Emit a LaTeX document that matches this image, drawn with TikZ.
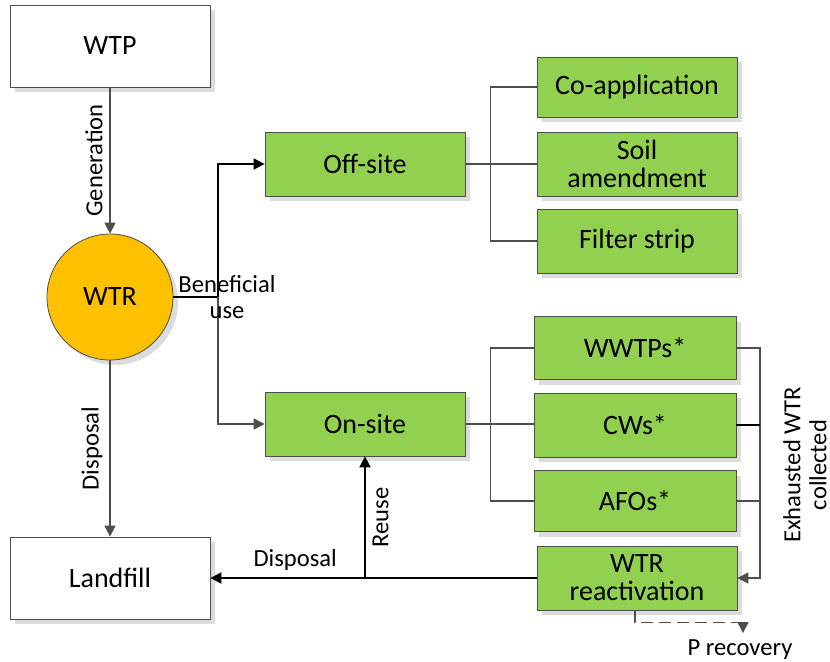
\documentclass[tikz,border=0pt]{standalone}
\usepackage{fontspec}
\setmainfont{Carlito}
\usetikzlibrary{arrows.meta,shadows}
\definecolor{boxgreen}{HTML}{92D050}
\definecolor{wtrorange}{HTML}{FFC000}
\definecolor{edgegray}{HTML}{4D4D4D}
\definecolor{shadegray}{HTML}{DCDCDC}
\begin{document}
\begin{tikzpicture}[x=0.5pt,y=-0.5pt,
  shade/.style={drop shadow={shadow xshift=2.5pt,shadow yshift=-2.5pt,fill=shadegray,opacity=1}},
  plain/.style={draw=edgegray,fill=white,shade,minimum width=100pt,minimum height=41pt,font=\fontsize{14}{15}\selectfont},
  stage/.style={draw=edgegray,fill=boxgreen,shade,minimum width=100pt,minimum height=32pt,align=center,font=\fontsize{14}{14}\selectfont},
  lbl/.style={font=\fontsize{12.3}{13}\selectfont,align=center},
  arr/.style={-{Triangle[length=5.5pt,width=5.5pt]}},
  wire/.style={draw=edgegray,line width=0.7pt}]
\useasboundingbox (0,0) rectangle (830,661);

\node[plain] (wtp) at (110,46) {WTP};
\node[circle,draw=edgegray,fill=wtrorange,shade,minimum size=63pt,font=\fontsize{14}{15}\selectfont] (wtr) at (110,297) {WTR};
\node[plain] (landfill) at (110,578) {Landfill};

\node[stage] (offsite) at (365,164) {Off-site};
\node[stage] (onsite) at (365,424) {On-site};

\node[stage,minimum height=30pt] (coapp) at (637,87) {Co-application};
\node[stage] (soil) at (637,164) {Soil\\amendment};
\node[stage] (filter) at (637,241) {Filter strip};

\node[stage,minimum width=101pt,minimum height=31.5pt] (wwtps) at (635,348) {WWTPs*};
\node[stage,minimum width=101pt] (cws) at (635,425) {CWs*};
\node[stage,minimum width=101pt,minimum height=30.5pt] (afos) at (635,501) {AFOs*};
\node[stage] (react) at (637,578) {WTR\\reactivation};

\draw[wire,arr] (wtp) -- (wtr) node[midway,rotate=90,anchor=south,lbl] {Generation};
\draw[wire,arr] (wtr) -- (landfill) node[midway,rotate=90,anchor=south,lbl] {Disposal};

\coordinate (split) at (218,297);
\draw[line width=0.8pt] (wtr.east) -- (split);
\draw[line width=0.8pt,arr] (split) |- (offsite.west);
\draw[wire,arr] (split) |- (onsite.west);
\node[lbl] (benef) at (227,297) {Beneficial\\use};

\draw[wire] (offsite.east) -- (soil.west);
\draw[wire] (coapp.west) -- ++(-46,0) |- (filter.west);
\draw[wire] (onsite.east) -- (onsite.east -| cws.west);
\draw[wire] (wwtps.west) -- ++(-43,0) |- (afos.west);

\coordinate (rbus) at (760,348);
\draw[wire,line width=0.8pt,arr] (wwtps.east) -- (rbus) |- (react.east);
\draw[line width=0.8pt] (cws.east) -- (cws.east -| rbus);
\draw[wire] (afos.east) -- (afos.east -| rbus);
\node[lbl,rotate=90] (exhaust) at (805,465) {Exhausted WTR\\collected};

\draw[line width=1pt,arr] (react.west) -- (landfill.east) node[pos=0.74,above,lbl] {Disposal};
\coordinate (reusept) at (365,578);
\draw[line width=1pt,arr] (reusept) -- (onsite.south) node[midway,rotate=90,anchor=north,lbl] {Reuse};

\node[lbl] (precov) at (740,650) {P recovery};
\coordinate (ptip) at (743,633);
\draw[wire,dashed,dash pattern=on 6pt off 3pt,arr] ([xshift=-1pt]react.south) |- ++(0,12) -| (ptip);
\end{tikzpicture}
\end{document}
